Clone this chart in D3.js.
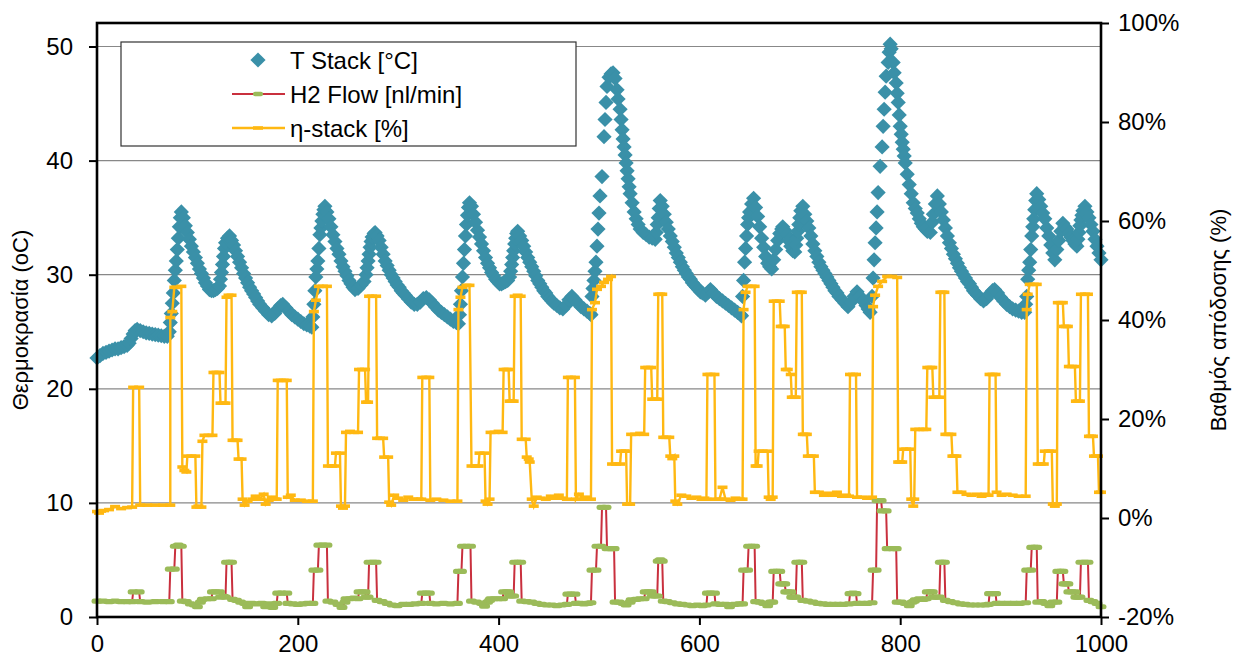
<!DOCTYPE html>
<html>
<head>
<meta charset="utf-8">
<script src="https://cdn.jsdelivr.net/npm/d3@7/dist/d3.min.js"></script>
<style>
  body { margin: 0; background: #fff; }
  text { font-family: Arial, "Liberation Sans", sans-serif; }
</style>
</head>
<body>
<svg width="1246" height="664"></svg>
<script>
// T Stack [°C] -> [time, temperature]
var tStack = [[0,22.7],[3,22.9],[6,23.1],[9,23.2],[12,23.3],[15,23.4],[18,23.5],[21,23.5],[24,23.6],[27,23.7],[30,23.8],[32,24.0],[34,24.4],[36,24.8],[38,25.1],[40,25.2],[43,25.1],[46,25.0],[49,24.9],[52,24.85],[55,24.8],[58,24.75],[61,24.7],[64,24.65],[67,24.6],[70,24.6],
  [72,25.0],[73,25.8],[74,26.6],[75,27.5],[76,28.4],[77,29.5],[78,30.4],[79,31.2],[80,32.2],[81,33.2],[82,34.2],[83,35.0],[84,35.5],
  [86,35.0],[88,34.3],[90,33.7],[92,33.1],[94,32.5],[96,32.0],[98,31.5],[100,31.0],[102,30.5],[104,30.1],[106,29.7],[108,29.3],[110,29.0],[112,28.7],[114,28.6],[116,28.6],[118,28.7],[120,28.8],[122,29.0],
  [123,29.6],[124,30.2],[125,30.9],[126,31.6],[127,32.3],[128,32.8],[130,33.2],[132,33.4],
  [134,33.0],[136,32.6],[138,32.1],[140,31.6],[142,31.1],[144,30.6],[146,30.1],[148,29.7],[150,29.3],[152,28.9],[154,28.6],[156,28.3],[158,28.0],[160,27.7],[162,27.4],[165,27.1],[168,26.8],[171,26.5],[174,26.4],[177,26.6],[180,27.0],[183,27.3],[185,27.4],[188,27.1],[191,26.8],[194,26.5],[197,26.3],[200,26.1],[203,25.9],[206,25.7],[209,25.6],[212,25.5],[214,25.4],
  [215,26.3],[216,27.4],[217,28.6],[218,29.8],[219,30.5],[220,31.2],[221,32.3],[222,33.5],[223,34.1],[224,34.7],[225,35.3],[226,35.7],[227,36.0],
  [229,35.5],[231,34.9],[233,34.2],[235,33.5],[237,32.9],[239,32.3],[241,31.8],[243,31.2],[245,30.7],[247,30.3],[249,29.9],[251,29.5],[253,29.2],[255,28.9],[257,28.7],[260,28.8],[263,29.1],[266,29.4],
  [268,30.0],[269,30.6],[270,31.2],[271,31.8],[272,32.4],[273,32.9],[274,33.3],[276,33.6],[277,33.7],
  [279,33.4],[281,33.0],[283,32.4],[285,31.8],[287,31.2],[289,30.8],[291,30.4],[293,30.0],[295,29.7],[297,29.4],[299,29.1],[301,28.9],[303,28.6],[305,28.4],[307,28.2],[310,27.9],[313,27.6],[316,27.4],[319,27.4],[322,27.6],[325,27.9],[328,28.0],[331,27.8],[334,27.5],[337,27.2],[340,26.9],[343,26.7],[346,26.5],[349,26.3],[352,26.1],[355,25.9],[358,25.8],[360,25.7],
  [361,26.5],[362,27.4],[363,28.6],[364,29.8],[365,31.0],[366,32.2],[367,33.4],[368,34.4],[369,35.2],[370,35.9],[371,36.3],
  [373,36.0],[375,35.3],[377,34.6],[379,33.9],[381,33.3],[383,32.7],[385,32.1],[387,31.5],[389,31.0],[391,30.6],[393,30.2],[395,29.9],[397,29.6],[399,29.4],[401,29.2],[403,29.2],[405,29.3],[407,29.4],[409,29.5],[411,29.8],
  [412,30.3],[413,30.9],[414,31.5],[415,32.1],[416,32.7],[417,33.2],[418,33.6],[419,33.8],
  [421,33.4],[423,33.0],[425,32.5],[427,32.0],[429,31.5],[431,31.1],[433,30.7],[435,30.3],[437,29.9],[439,29.5],[441,29.2],[443,28.9],[445,28.6],[447,28.4],[449,28.1],[451,27.9],[453,27.7],[455,27.5],[458,27.3],[461,27.1],[464,27.0],[467,27.3],[470,27.8],[473,28.1],[476,27.8],[479,27.5],[482,27.2],[485,27.0],[488,26.8],[491,26.6],[492,26.5],
  [493,28.1],[494,28.8],[495,29.5],[496,30.3],[497,31.1],[498,32.5],[499,34.0],[500,35.4],[501,36.9],[503,38.6],[505,42.1],[506,43.6],[507,45.1],[508,46.5],[510,47.3],[512,47.6],[514,47.7],
  [516,47.2],[518,46.2],[519,45.4],[521,44.5],[522,43.6],[523,42.7],[524,41.9],[525,41.2],[526,40.5],[527,39.8],[528,39.1],[529,38.4],[530,37.7],[531,37.1],[533,36.3],[535,35.5],[537,34.9],[539,34.4],[541,34.0],[544,33.7],[547,33.5],[550,33.3],[553,33.2],[556,33.1],
  [557,33.7],[558,34.4],[559,35.0],[560,35.8],[561,36.5],
  [563,36.0],[565,35.3],[567,34.6],[569,34.0],[571,33.4],[573,32.9],[575,32.4],[577,31.9],[579,31.5],[581,31.1],[583,30.7],[585,30.4],[587,30.1],[589,29.8],[591,29.6],[593,29.3],[595,29.1],[597,28.9],[599,28.7],[601,28.5],[603,28.4],[606,28.2],[609,28.5],[611,28.7],[614,28.4],[617,28.1],[620,27.9],[623,27.7],[626,27.5],[629,27.3],[632,27.1],[635,26.9],[638,26.7],[641,26.5],[642,26.4],
  [643,28.1],[644,29.5],[645,31.1],[646,32.3],[647,33.4],[648,34.4],[649,35.0],[650,35.5],[652,36.2],[654,36.7],
  [656,35.9],[658,35.1],[660,34.2],[662,33.2],[664,32.4],[666,31.6],[668,31.0],[670,30.7],[672,30.5],
  [674,31.3],[676,32.2],[678,33.0],[680,33.6],[682,34.0],[683,34.2],
  [685,33.9],[687,33.5],[689,33.0],[691,32.5],[693,32.1],[695,32.0],
  [696,32.6],[697,33.2],[698,33.8],[699,34.4],[700,35.0],[701,35.6],[703,36.0],
  [705,35.3],[707,34.7],[709,34.1],[711,33.4],[713,32.7],[715,32.1],[717,31.6],[719,31.1],[721,30.7],[723,30.4],[725,30.1],[727,29.8],[729,29.5],[731,29.2],[733,28.9],[735,28.6],[737,28.4],[739,28.1],[742,27.8],[745,27.5],[748,27.2],[751,27.6],[754,28.1],[757,28.5],[760,28.1],[763,27.7],[766,27.3],[768,27.0],[770,26.7],
  [772,28.1],[773,29.7],[774,31.3],[775,32.8],[776,34.1],[777,35.5],[778,37.2],[780,39.5],[782,41.2],[783,43.0],[784,44.5],[785,46.0],[786,47.4],[788,48.6],[789,49.5],[790,50.2],
  [791,49.8],[793,48.6],[794,47.7],[796,46.8],[797,45.9],[798,45.1],[799,44.0],[800,43.0],[801,42.3],[802,41.6],[803,41.0],[804,40.4],[805,39.8],[807,38.8],[809,37.9],[811,37.1],[813,36.3],[815,35.8],[817,35.4],[819,34.9],[821,34.5],[823,34.2],[825,34.0],[827,33.8],[830,33.7],
  [832,34.6],[833,35.3],[835,36.2],[837,36.9],
  [839,36.2],[841,35.5],[843,34.8],[845,34.1],[847,33.4],[849,32.8],[851,32.3],[853,31.8],[855,31.4],[857,31.0],[859,30.6],[861,30.3],[863,30.0],[865,29.7],[867,29.4],[869,29.2],[871,28.9],[873,28.6],[875,28.4],[877,28.2],[880,27.9],[883,27.7],[886,27.9],[889,28.3],[892,28.6],[894,28.7],[897,28.4],[900,28.0],[903,27.7],[906,27.4],[909,27.2],[912,27.0],[915,26.9],[918,26.8],[921,26.7],[924,26.7],
  [925,27.4],[926,28.1],[927,29.6],[928,30.4],[929,31.1],[930,32.2],[931,33.4],[932,34.2],[933,34.9],[934,35.7],[935,36.5],[936,37.1],
  [938,36.6],[940,36.0],[942,35.4],[944,34.9],[946,34.1],[948,33.4],[950,32.6],[952,31.9],[954,31.3],
  [956,32.2],[958,33.0],[960,33.8],[962,34.5],
  [964,34.2],[966,34.0],[968,33.6],[970,33.3],[972,33.0],[974,32.7],[976,32.5],
  [977,33.1],[978,33.7],[979,34.3],[980,34.8],[981,35.2],[982,35.6],[984,36.0],
  [986,35.5],[988,35.0],[990,34.4],[992,33.8],[994,33.1],[996,32.5],[998,31.9],[1000,31.3]];

// H2 Flow [nl/min] -> [time, flow]
var h2Flow = [[0,1.4],[6,1.4],[12,1.35],[18,1.4],[24,1.35],[30,1.35],[35,1.35],
  [36,2.2],[42,2.2],
  [43,1.35],[50,1.3],[58,1.35],[66,1.35],[72,1.35],
  [73,4.2],[77,4.2],[78,6.2],[81,6.3],[84,6.2],
  [85,1.4],[89,1.35],[93,1.15],[97,1.05],[100,0.9],[103,1.3],
  [105,1.55],[110,1.6],[114,1.6],[115,2.2],[118,2.2],[122,2.2],[123,1.75],[126,1.8],[128,1.75],[129,4.8],[132,4.8],[134,4.8],
  [135,1.55],[139,1.45],[143,1.3],[147,1.2],[150,0.9],[154,1.2],[159,1.15],[164,1.2],[168,0.9],[171,1.15],[175,0.85],[179,1.2],
  [180,2.1],[184,2.1],[189,2.1],
  [190,1.2],[195,1.15],[200,1.1],[205,1.15],[210,1.2],[215,1.2],
  [216,4.1],[220,4.1],[221,6.3],[225,6.3],[229,6.3],
  [230,1.4],[235,1.3],[240,1.1],[244,0.85],[247,1.3],
  [248,1.6],[252,1.6],[256,1.65],[260,1.6],[261,2.2],[264,2.2],[267,2.2],[268,1.75],[270,1.75],[271,4.8],[275,4.8],[278,4.8],
  [279,1.45],[284,1.35],[289,1.2],[294,1.05],[299,1.0],[305,1.1],[311,1.1],[317,1.15],[323,1.2],
  [324,2.1],[328,2.1],[331,2.1],
  [332,1.2],[338,1.15],[345,1.2],[352,1.15],[359,1.2],
  [360,4.0],[363,4.0],[364,6.2],[368,6.2],[372,6.2],
  [373,1.4],[378,1.3],[383,1.2],[386,0.95],[389,1.3],[391,1.45],
  [392,1.6],[396,1.6],[400,1.6],[404,1.6],[405,2.2],[408,2.2],[410,2.2],[411,1.84],[413,1.84],[415,1.84],[416,4.8],[419,4.8],[422,4.8],
  [423,1.4],[428,1.35],[433,1.3],[438,1.2],[443,1.1],[448,1.05],[453,1.05],[458,1.0],[463,1.05],[468,1.1],
  [469,2.0],[472,2.0],[476,2.0],
  [477,1.2],[481,1.2],[485,1.15],[489,1.2],[492,1.25],
  [493,4.1],[497,4.1],[498,6.2],[502,6.2],[503,9.6],[507,9.6],[508,6.0],[512,6.0],[515,6.0],
  [516,1.3],[520,1.3],[524,1.2],[527,1.05],[531,1.3],
  [532,1.5],[537,1.55],[541,1.6],[545,1.6],[546,2.2],[549,2.2],[552,2.2],[553,1.84],[556,1.84],[558,1.84],[559,4.9],[561,5.0],[563,4.9],
  [564,1.4],[568,1.35],[573,1.25],[578,1.15],[583,1.1],[588,1.05],[593,1.0],[598,1.05],[603,1.0],[607,1.05],
  [608,2.1],[611,2.1],[615,2.1],
  [616,1.15],[621,1.1],[626,1.1],[630,0.9],[635,1.1],[640,1.15],[643,1.15],
  [644,4.1],[648,4.1],[649,6.2],[652,6.2],[655,6.2],
  [656,1.35],[660,1.3],[664,1.2],[668,1.0],[671,1.3],[673,1.3],
  [674,4.0],[677,4.0],[680,4.0],[681,2.9],[683,2.9],[685,2.9],[686,2.2],[688,2.2],[691,2.2],[692,1.75],[694,1.75],[696,1.75],[697,4.8],[700,4.8],[702,4.8],
  [703,1.45],[708,1.4],[713,1.3],[718,1.2],[723,1.15],[728,1.1],[733,1.1],[738,1.1],[743,1.1],[749,1.15],
  [750,2.05],[753,2.1],[756,2.05],
  [757,1.2],[762,1.2],[767,1.2],[772,1.25],
  [773,4.1],[776,4.1],[777,10.2],[781,10.2],[782,9.3],[786,9.3],[787,6.0],[792,6.0],[796,6.0],
  [797,1.3],[801,1.3],[805,1.2],[809,1.0],[812,1.3],[814,1.4],
  [815,1.5],[819,1.6],[823,1.55],[826,1.6],[827,2.2],[830,2.2],[832,2.2],[833,1.75],[836,1.75],[839,1.75],[840,4.8],[842,4.8],[844,4.8],
  [845,1.45],[850,1.35],[855,1.25],[860,1.15],[865,1.1],[870,1.05],[875,1.05],[880,1.05],[885,1.05],[888,1.1],
  [889,2.05],[892,2.05],[895,2.05],
  [896,1.2],[901,1.2],[907,1.2],[913,1.2],[919,1.2],[925,1.25],
  [926,4.1],[930,4.1],[931,6.1],[934,6.1],[936,6.1],
  [937,1.3],[941,1.35],[945,1.2],[949,1.0],[952,1.3],[956,1.3],
  [957,4.0],[960,4.0],[962,4.0],[963,2.9],[965,2.9],[967,2.9],[968,2.2],[971,2.2],[974,2.2],[975,1.75],[977,1.75],[979,1.75],[980,4.8],[984,4.8],[987,4.8],
  [988,1.45],[992,1.35],[996,1.2],[1000,0.9]];

// η-stack [%] -> [time, efficiency %] (right axis)
var etaStack = [[0,1.3],[2,1.0],[4,1.4],[7,1.5],[12,1.7],[18,2.3],[24,1.9],[30,2.1],[35,2.2],
  [36,26.4],[42,26.4],[43,2.6],[50,2.6],[58,2.6],[66,2.6],[73,2.6],
  [73,40.5],[75,41.7],[77,46.6],[79,46.6],[84,46.8],
  [85,10.3],[87,9.6],[89,9.3],[90,12.5],[94,12.5],[98,12.5],
  [99,2.2],[101,2.4],[104,2.2],
  [105,15.5],[107,16.7],[111,16.7],[115,16.7],[116,29.4],[119,29.4],[122,29.4],[123,23.2],[126,23.2],[128,23.2],[129,44.6],[131,45.0],[134,45.0],
  [135,15.7],[138,15.7],[140,15.7],[141,11.9],[144,11.9],
  [145,3.8],[147,2.6],[150,3.4],[155,3.8],[158,4.4],[162,3.8],[166,4.8],[168,2.8],[171,3.6],[174,4.2],[177,3.8],[179,3.8],
  [180,27.8],[183,27.8],[186,27.8],[189,27.8],
  [190,4.2],[193,4.6],[197,3.6],[203,3.6],[209,3.4],[215,3.4],
  [216,41.7],[218,44.0],[221,46.8],[225,46.8],[229,46.8],
  [230,10.5],[234,10.5],[237,10.5],[238,13.1],[242,13.1],
  [243,2.4],[245,2.0],[247,2.4],
  [248,17.3],[252,17.5],[256,17.3],[260,17.3],[261,30.0],[264,30.0],[267,30.0],[268,23.4],[270,23.4],[271,44.8],[274,44.8],[278,44.8],
  [279,16.1],[282,16.1],[285,16.1],[286,12.3],[290,12.3],
  [291,3.2],[293,2.6],[296,4.6],[300,4.0],[305,3.6],[310,4.2],[315,3.8],[320,3.8],[323,3.8],
  [324,28.4],[328,28.4],[331,28.4],
  [332,3.6],[338,3.8],[345,3.6],[352,3.4],[359,3.4],
  [360,42.1],[362,44.6],[364,46.6],[368,47.0],[371,47.0],
  [373,10.5],[377,10.5],[380,10.5],[381,13.1],[386,13.1],
  [387,3.4],[389,2.8],[391,3.8],
  [392,17.3],[396,17.3],[400,17.5],[404,17.3],[405,30.0],[408,30.0],[410,30.0],[411,23.6],[413,23.6],[415,23.6],[416,44.8],[419,45.0],[422,44.8],
  [423,15.9],[427,15.9],[428,12.3],[430,11.9],[431,11.3],
  [433,3.8],[435,2.4],[438,4.2],[442,4.0],[447,3.8],[452,4.4],[456,4.0],[460,4.6],[464,4.0],[468,3.8],
  [469,28.4],[472,28.4],[476,28.4],
  [477,3.8],[480,4.8],[484,3.8],[488,4.2],[492,3.8],
  [493,42.1],[496,43.5],[498,46.2],[502,46.8],[505,47.6],[509,48.2],[512,48.8],
  [513,10.9],[517,10.9],[521,10.9],[522,13.5],[525,13.5],[527,13.5],
  [528,2.8],[531,2.8],
  [532,16.9],[536,16.9],[541,17.1],[545,16.9],[546,30.4],[549,30.4],[552,30.4],[553,24.0],[556,24.0],[558,24.0],[559,45.2],[561,45.2],[563,45.2],
  [564,16.3],[567,16.3],[570,16.3],[571,12.5],[573,12.0],[575,12.5],
  [576,3.4],[578,2.8],[582,4.6],[587,4.4],[592,4.0],[597,4.2],[602,3.8],[605,4.0],[607,3.8],
  [608,29.0],[611,29.0],[615,29.0],
  [616,3.8],[620,3.8],[623,6.2],[626,3.8],[631,3.6],[636,4.0],[640,3.8],[643,3.8],
  [644,42.1],[646,45.6],[648,46.8],[652,46.8],[655,46.8],
  [656,10.5],[658,10.5],[659,13.5],[663,13.5],[668,13.5],
  [669,4.2],[671,3.8],[673,4.2],
  [674,43.8],[677,43.8],[680,43.8],[681,38.7],[683,38.7],[685,38.7],[686,30.0],[688,30.0],[691,29.0],[692,24.4],[694,24.4],[696,24.4],[697,45.6],[700,45.6],[702,45.6],
  [703,16.9],[705,16.9],[707,16.9],[708,12.5],[711,12.5],[714,12.5],
  [715,5.2],[719,5.2],[724,4.6],[728,5.0],[733,4.6],[737,5.2],[742,4.4],[746,4.6],[749,4.4],
  [750,29.0],[753,29.0],[756,29.0],
  [757,4.2],[762,4.2],[767,4.0],[772,4.2],
  [773,42.7],[775,45.0],[778,46.8],[782,47.8],[787,48.8],[792,48.8],[797,48.6],
  [798,11.3],[800,11.3],[802,11.3],[803,13.9],[806,13.9],[810,13.9],
  [811,3.8],[813,2.4],[814,3.8],
  [815,17.9],[819,17.9],[823,17.9],[826,17.9],[827,30.4],[830,30.4],[832,30.4],[833,24.4],[836,24.4],[839,24.4],[840,45.6],[842,45.6],[844,45.6],
  [845,16.9],[848,16.9],[851,16.9],[852,12.5],[854,12.5],[856,12.5],
  [857,5.2],[861,5.2],[866,4.8],[871,4.6],[876,4.8],[881,4.4],[885,4.8],[888,4.6],
  [889,29.0],[892,29.0],[895,29.0],
  [896,5.2],[901,4.6],[906,4.8],[912,4.6],[918,4.4],[925,4.4],
  [926,42.1],[927,45.2],[929,47.2],[933,47.2],[936,47.2],
  [937,10.9],[940,10.9],[943,10.9],[944,13.5],[948,13.5],[951,13.5],
  [952,2.8],[954,2.4],[956,2.8],
  [957,43.5],[960,43.5],[962,43.5],[963,38.7],[965,38.7],[967,38.7],[968,30.6],[971,30.6],[974,30.6],[975,23.6],[977,23.6],[979,23.6],[980,45.2],[984,45.2],[987,45.2],
  [988,16.5],[990,16.5],[992,16.5],[993,12.5],[995,12.5],[997,12.5],
  [998,5.2],[1000,5.2]];

var xTicks = [0, 200, 400, 600, 800, 1000];
var leftTicks = [0, 10, 20, 30, 40, 50];
var rightTicks = [-20, 0, 20, 40, 60, 80, 100];
var legendLabels = ["T Stack [°C]", "H2 Flow [nl/min]", "η-stack [%]"];

function main() {
  var svg = d3.select("svg");

  var left = 97, right = 1101, top = 23, bottom = 617;

  var xScale = d3.scaleLinear().domain([0, 1000]).range([left, right]);
  // left axis: 50 sits a bit under the top of the frame
  var yLeft = d3.scaleLinear().domain([0, 50]).range([bottom, 46.5]);
  var yRight = d3.scaleLinear().domain([-20, 100]).range([bottom, top]);

  // gridlines
  svg.append("g")
    .selectAll("line")
    .data(leftTicks.filter(function (d) { return d > 0; }))
    .enter()
    .append("line")
    .attr("x1", left)
    .attr("x2", right)
    .attr("y1", function (d) { return yLeft(d); })
    .attr("y2", function (d) { return yLeft(d); })
    .attr("stroke", "#888")
    .attr("stroke-width", 1.2);

  // T Stack diamonds
  var diamond = "M0,-7.6L7.6,0L0,7.6L-7.6,0Z";
  svg.append("g")
    .selectAll("path")
    .data(tStack)
    .enter()
    .append("path")
    .attr("d", diamond)
    .attr("transform", function (d) {
      return "translate(" + xScale(d[0]) + "," + yLeft(d[1]) + ")";
    })
    .attr("fill", "#3a90a8");

  // H2 flow: red line, green markers
  var h2Line = d3.line()
    .x(function (d) { return xScale(d[0]); })
    .y(function (d) { return yLeft(d[1]); });
  svg.append("path")
    .datum(h2Flow)
    .attr("d", h2Line)
    .attr("fill", "none")
    .attr("stroke", "#c9303e")
    .attr("stroke-width", 2);
  svg.append("g")
    .selectAll("rect")
    .data(h2Flow)
    .enter()
    .append("rect")
    .attr("x", function (d) { return xScale(d[0]) - 5.5; })
    .attr("y", function (d) { return yLeft(d[1]) - 2.6; })
    .attr("width", 11)
    .attr("height", 5.2)
    .attr("rx", 2.5)
    .attr("fill", "#9bbb59");

  // η-stack: orange line with dash markers on the right axis
  var etaLine = d3.line()
    .x(function (d) { return xScale(d[0]); })
    .y(function (d) { return yRight(d[1]); });
  svg.append("path")
    .datum(etaStack)
    .attr("d", etaLine)
    .attr("fill", "none")
    .attr("stroke", "#ffb812")
    .attr("stroke-width", 2.4);
  svg.append("g")
    .selectAll("rect")
    .data(etaStack)
    .enter()
    .append("rect")
    .attr("x", function (d) { return xScale(d[0]) - 5; })
    .attr("y", function (d) { return yRight(d[1]) - 1.8; })
    .attr("width", 10)
    .attr("height", 3.6)
    .attr("fill", "#ffb812");

  // axes
  var leftAxis = svg.append("g")
    .attr("transform", "translate(" + left + ",0)")
    .call(d3.axisLeft(yLeft).tickValues(leftTicks).tickSize(8).tickPadding(16));
  var rightAxis = svg.append("g")
    .attr("transform", "translate(" + right + ",0)")
    .call(d3.axisRight(yRight).tickValues(rightTicks).tickSize(8).tickPadding(9)
      .tickFormat(function (d) { return d + "%"; }));
  var bottomAxis = svg.append("g")
    .attr("transform", "translate(0," + bottom + ")")
    .call(d3.axisBottom(xScale).tickValues(xTicks).tickSize(8).tickPadding(10)
      .tickFormat(d3.format("d")));

  [leftAxis, rightAxis, bottomAxis].forEach(function (ax) {
    ax.select(".domain").remove();
    ax.selectAll(".tick line").attr("stroke", "#000").attr("stroke-width", 2);
    ax.selectAll("text")
      .attr("font-family", "Arial, 'Liberation Sans', sans-serif")
      .attr("font-size", 24)
      .attr("fill", "#000");
  });

  // plot frame
  svg.append("rect")
    .attr("x", left)
    .attr("y", top)
    .attr("width", right - left)
    .attr("height", bottom - top)
    .attr("fill", "none")
    .attr("stroke", "#000")
    .attr("stroke-width", 2.6);

  // axis titles
  svg.append("text")
    .attr("transform", "translate(28," + (top + bottom) / 2 + ") rotate(-90)")
    .attr("text-anchor", "middle")
    .attr("font-size", 22)
    .text("Θερμοκρασία (oC)");
  svg.append("text")
    .attr("transform", "translate(1226," + (top + bottom) / 2 + ") rotate(-90)")
    .attr("text-anchor", "middle")
    .attr("font-size", 22)
    .text("Βαθμός απόδοσης (%)");

  // legend
  var legend = svg.append("g");
  legend.append("rect")
    .attr("x", 121)
    .attr("y", 42)
    .attr("width", 455)
    .attr("height", 104)
    .attr("fill", "#fff")
    .attr("stroke", "#333")
    .attr("stroke-width", 1.2);

  var rowY = [60, 94, 128];
  legend.append("path")
    .attr("d", diamond)
    .attr("transform", "translate(258," + rowY[0] + ")")
    .attr("fill", "#3a90a8");
  legend.append("line")
    .attr("x1", 232).attr("x2", 285)
    .attr("y1", rowY[1]).attr("y2", rowY[1])
    .attr("stroke", "#c9303e").attr("stroke-width", 2);
  legend.append("rect")
    .attr("x", 253).attr("y", rowY[1] - 2.2)
    .attr("width", 10).attr("height", 4.4).attr("rx", 2)
    .attr("fill", "#9bbb59");
  legend.append("line")
    .attr("x1", 232).attr("x2", 285)
    .attr("y1", rowY[2]).attr("y2", rowY[2])
    .attr("stroke", "#ffb812").attr("stroke-width", 2.4);
  legend.append("rect")
    .attr("x", 253).attr("y", rowY[2] - 1.8)
    .attr("width", 10).attr("height", 3.6)
    .attr("fill", "#ffb812");

  legend.selectAll("text.lbl")
    .data(legendLabels)
    .enter()
    .append("text")
    .attr("class", "lbl")
    .attr("x", 290)
    .attr("y", function (d, i) { return rowY[i]; })
    .attr("dy", "0.36em")
    .attr("font-size", 24)
    .text(function (d) { return d; });
}

main();
</script>
</body>
</html>
